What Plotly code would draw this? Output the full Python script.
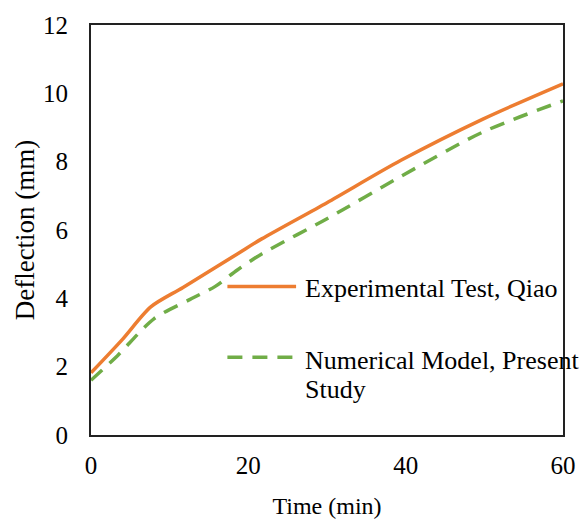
import plotly.graph_objects as go

# Data
time_exp = [0, 4, 7.6, 11.7, 18.6, 21.7, 30, 39.4, 49.75, 60]
defl_exp = [1.82, 2.8, 3.75, 4.32, 5.3, 5.74, 6.8, 8.04, 9.24, 10.28]

time_num = [0, 3.4, 8, 12.6, 15.8, 18.6, 21.7, 30, 39.4, 49.75, 60]
defl_num = [1.6, 2.33, 3.4, 3.97, 4.35, 4.83, 5.3, 6.33, 7.57, 8.86, 9.78]

series_names = ["Experimental Test, Qiao", "Numerical Model, Present Study"]
x_ticks = [0, 20, 40, 60]
y_ticks = [0, 2, 4, 6, 8, 10, 12]

ORANGE = "#ED7D31"
GREEN = "#70AD47"
FONT = "Liberation Serif"

fig = go.Figure()
fig.add_trace(go.Scatter(x=time_exp, y=defl_exp, mode="lines", name=series_names[0],
                         line=dict(color=ORANGE, width=3.5, shape="spline", smoothing=0.8),
                         showlegend=False))
fig.add_trace(go.Scatter(x=time_num, y=defl_num, mode="lines", name=series_names[1],
                         line=dict(color=GREEN, width=3.5, dash="15px,10px", shape="spline", smoothing=0.8),
                         showlegend=False))

# manual legend (paper coordinates)
L, R, T, B = 91, 572, 19, 436
def px(x):
    return (x - L) / (R - L)
def py(y):
    return (B - y) / (B - T)

LEG_FONT = dict(family=FONT, size=26, color="black")
fig.add_shape(type="line", xref="paper", yref="paper", x0=px(230), x1=px(300), y0=py(285), y1=py(285),
              line=dict(color=ORANGE, width=3.5))
fig.add_shape(type="line", xref="paper", yref="paper", x0=px(230), x1=px(300), y0=py(357), y1=py(357),
              line=dict(color=GREEN, width=3.5, dash="15px,10px"))
fig.add_annotation(xref="paper", yref="paper", x=px(307), y=py(287), xanchor="left", yanchor="middle",
                   text=series_names[0], showarrow=False, font=LEG_FONT)
name2 = series_names[1].rsplit(" ", 1)
fig.add_annotation(xref="paper", yref="paper", x=px(307), y=py(360), xanchor="left", yanchor="middle",
                   text=name2[0], showarrow=False, font=LEG_FONT)
fig.add_annotation(xref="paper", yref="paper", x=px(307), y=py(390), xanchor="left", yanchor="middle",
                   text=name2[1], showarrow=False, font=LEG_FONT)

fig.update_layout(
    width=588, height=527,
    margin=dict(l=L, r=588 - R, t=T, b=527 - B),
    paper_bgcolor="white", plot_bgcolor="white",
    xaxis=dict(range=[0, 60], tickvals=x_ticks, showgrid=False, zeroline=False,
               showline=True, linecolor="#222", linewidth=2, mirror=True,
               ticks="", ticklabelstandoff=7, tickfont=dict(family=FONT, size=25, color="black"),
               title=dict(text="Time (min)", font=dict(family=FONT, size=24, color="black"), standoff=19)),
    yaxis=dict(range=[0, 12], tickvals=y_ticks, showgrid=False, zeroline=False,
               showline=True, linecolor="#222", linewidth=2, mirror=True,
               ticks="", ticklabelstandoff=16, tickfont=dict(family=FONT, size=25, color="black"),
               title=dict(text="Deflection (mm)", font=dict(family=FONT, size=27, color="black"), standoff=1)),
)

fig.write_html("out.html")
